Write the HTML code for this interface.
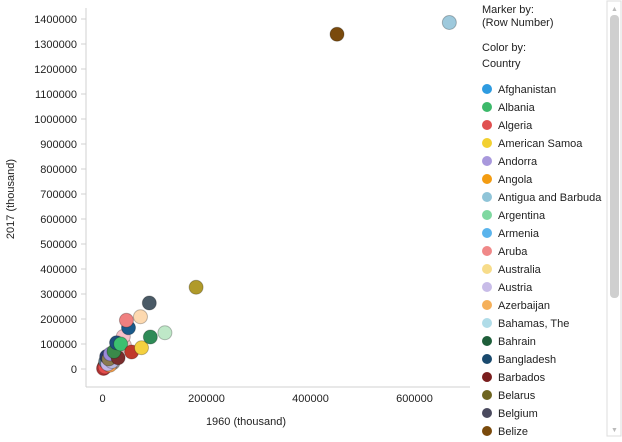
<!DOCTYPE html>
<html><head><meta charset="utf-8"><style>
body{margin:0;background:#fff;font-family:"Liberation Sans",sans-serif;}
svg text{font-family:"Liberation Sans",sans-serif;font-size:11px;fill:#222;}
</style></head><body>
<svg id="chart" width="622" height="437">
<line x1="86" y1="8" x2="86" y2="387" stroke="#d0d0d0"/>
<line x1="86" y1="387" x2="470" y2="387" stroke="#d0d0d0"/>
<g id="yt"></g><g id="xt"></g><g id="pts"></g><g id="leg"></g>
<text x="246" y="425" text-anchor="middle">1960 (thousand)</text>
<text transform="translate(14,199) rotate(-90)" text-anchor="middle">2017 (thousand)</text>
<text x="482" y="13">Marker by:</text>
<text x="482" y="26">(Row Number)</text>
<text x="482" y="51">Color by:</text>
<text x="482" y="67">Country</text>
<rect x="607" y="1" width="14" height="435" fill="#fff" stroke="#ddd"/>
<rect x="610" y="15" width="9" height="283" rx="4" fill="#cfcfcf"/>
<text x="611" y="11" style="font-size:7px;fill:#bbb">▲</text>
<text x="611" y="432" style="font-size:7px;fill:#bbb">▼</text>
</svg>
<script>
const yTicks=[0,100000,200000,300000,400000,500000,600000,700000,800000,900000,1000000,1100000,1200000,1300000,1400000];
const xTicks=[0,200000,400000,600000];
const xVals=[667000,451000,180000,90000,73000,46000,50000,120000,92000,75000,56000,35000,27000,40000,42000,22000,30000,15000,12000,18000,8000,10000,6000,14000,5000,3000,20000,9000,4000,2000,7000];
const yVals=[1386000,1339000,327000,264000,209000,195000,165000,145000,128000,85000,68000,100000,105000,130000,95000,70000,45000,60000,40000,30000,50000,20000,30000,15000,8000,5000,25000,35000,12000,2000,18000];
const cols=["#9ec9dc","#7a4a0c","#b09a2a","#4a5a66","#fdd9b0","#f08080","#1a5a8a","#bfe8c8","#2e8b57","#f4d03f","#c0392b","#3cc070","#1f4f7f","#f9c0c8","#f3c6c8","#3a8a4a","#7b2d2d","#9b8ad8","#8a7a50","#b8b8e0","#2a3a6a","#c2b6e8","#5a7a8a","#f5a04d","#e54c4c","#d04040","#9a9a9a","#b0a0e0","#7a5a2a","#e03a3a","#9ccfe0"];
const legNames=["Afghanistan","Albania","Algeria","American Samoa","Andorra","Angola","Antigua and Barbuda","Argentina","Armenia","Aruba","Australia","Austria","Azerbaijan","Bahamas, The","Bahrain","Bangladesh","Barbados","Belarus","Belgium","Belize"];
const legCols=["#2e9be0","#3cb96a","#e05050","#f2d030","#a898dc","#f39c12","#8fc4d8","#7fd8a0","#5ab4ec","#f08888","#f7dc8a","#c8bce8","#f5b05a","#b0dce8","#1e5e3a","#1a4a6e","#7a1e1e","#6e6420","#4a4a5e","#7a4a0c"];
const NS="http://www.w3.org/2000/svg";
const sx=v=>102.5+v*0.00052, sy=v=>369-v*0.00025;
function mk(t,a,p){const e=document.createElementNS(NS,t);for(const k in a)e.setAttribute(k,a[k]);p.appendChild(e);return e;}
const yt=document.getElementById('yt');
yTicks.forEach(v=>{
 const l=mk('line',{x1:81,x2:86,y1:sy(v),y2:sy(v),stroke:'#d0d0d0'},yt);
 
 
 const t=mk('text',{x:77,y:sy(v)+4,'text-anchor':'end'},yt);t.textContent=v;
 
 
});
const xt=document.getElementById('xt');
xTicks.forEach(v=>{
 const t=mk('text',{x:sx(v),y:402,'text-anchor':'middle'},xt);t.textContent=v;
 
 
});
const pts=document.getElementById('pts');
for(let i=xVals.length-1;i>=0;i--){
 const c=mk('circle',{cx:sx(xVals[i]),cy:sy(yVals[i]),r:7,fill:cols[i],stroke:'rgba(0,0,0,0.25)'},pts);
 
 
}
const leg=document.getElementById('leg');
legNames.forEach((n,i)=>{
 const y=89+i*18;
 const c=mk('circle',{cx:487,cy:y,r:5,fill:legCols[i]},leg);
 
 
 const t=mk('text',{x:498,y:y+4},leg);t.textContent=n;
 
 
});
</script>
</body></html>
